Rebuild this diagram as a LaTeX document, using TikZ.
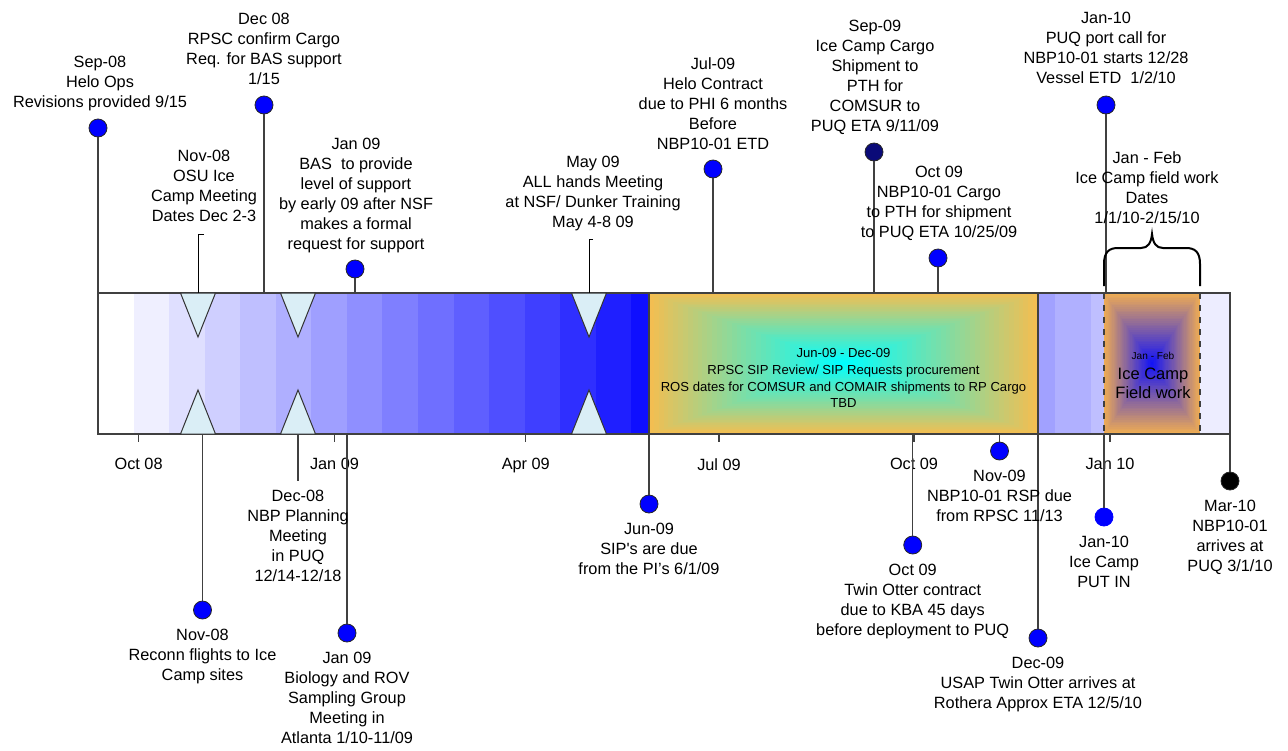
\documentclass[tikz,border=0pt]{standalone}
\usepackage{fontspec}
\setmainfont{Liberation Sans}
\usepackage{xcolor}
\usetikzlibrary{positioning}

\definecolor{laranja}{RGB}{242,190,82}
\definecolor{laranjaB}{RGB}{238,172,84}
\definecolor{ciano}{RGB}{0,255,255}
\definecolor{azulG}{RGB}{20,20,245}
\definecolor{azul}{RGB}{0,0,255}
\definecolor{gelo}{RGB}{218,238,246}
\definecolor{marinho}{RGB}{10,10,120}
\definecolor{borda}{RGB}{64,64,64}

\begin{document}
\begin{tikzpicture}[
    x=0.5pt, y=-0.5pt,
    rotulo/.style={align=center, inner sep=0pt, font=\fontsize{8.15}{10}\selectfont},
    pino/.style={circle, draw=black!85, fill=azul, minimum size=9pt, inner sep=0pt, line width=0.4pt},
    haste/.style={draw=black!75, line width=0.75pt},
    gancho/.style={draw=black, line width=0.5pt},
    ponta/.style={fill=gelo, draw=black!80, line width=0.5pt},
    tique/.style={draw=borda, line width=0.6pt}
]
\useasboundingbox (0,0) rectangle (1288,750);
\fill[white] (0,0) rectangle (1288,750);

\foreach \k in {0,...,15}{
    \pgfmathsetmacro\p{6.27*\k}
    \pgfmathsetmacro\xa{98+35.56*\k}
    \pgfmathsetmacro\xb{min(98+35.56*(\k+1),649)}
    \fill[azul!\p!white] (\xa,293) rectangle (\xb,434);
}
\fill[azul!37!white] (1038,293) rectangle (1055,434);
\fill[azul!31!white] (1055,293) rectangle (1091,434);
\fill[azul!25!white] (1091,293) rectangle (1104,434);
\fill[azul!7!white] (1200,293) rectangle (1230,434);

\foreach \i in {0,...,39}{
    \pgfmathsetmacro\s{1-\i/40}
    \pgfmathsetmacro\pc{100*\i/39}
    \fill[ciano!\pc!laranja] (843.5-194.5*\s,363.5-70.5*\s) rectangle (843.5+194.5*\s,363.5+70.5*\s);
    \fill[azulG!\pc!laranjaB] (1152-48*\s,363.5-70.5*\s) rectangle (1152+48*\s,363.5+70.5*\s);
}
\draw[borda, line width=0.75pt] (649,293) rectangle (1038,434);
\draw[borda, dashed, line width=0.6pt] (1104,293) -- (1104,434) (1200,293) -- (1200,434);

\node[draw=borda, line width=0.75pt, minimum width=566pt, minimum height=70.5pt, inner sep=0pt] (barra) at (664,363.5) {};

\foreach \x [count=\n] in {198,298,589}{
    \filldraw[ponta] (\x-17.5,293) -- (\x+17.5,293) -- (\x,337) -- cycle;
    \filldraw[ponta] (\x-17.5,434) -- (\x+17.5,434) -- (\x,390) -- cycle;
    \coordinate (m\n) at (\x,293);
    \coordinate (b\n) at (\x,434);
}

\node[align=center, inner sep=0pt, font=\fontsize{6.55}{8.3}\selectfont, anchor=north] (sip) at (843.5,348.3)
    {Jun-09 - Dec-09\\RPSC SIP Review/ SIP Requests procurement\\ROS dates for COMSUR and COMAIR shipments to RP Cargo\\TBD};
\node[inner sep=0pt, font=\fontsize{5.05}{6}\selectfont] (campo1) at (1153,355.7) {Jan - Feb};
\node[rotulo, font=\fontsize{8.25}{9.5}\selectfont, anchor=north] (campo2) at (1153,368) {Ice Camp\\Field work};

\foreach \x/\m [count=\c] in {138.6/Oct 08, 334.5/Jan 09, 525.8/Apr 09, 719/Jul 09, 914/Oct 09, 1110/Jan 10}{
    \node[rotulo, anchor=north] (mes\c) at (\x,458) {\m};
    \draw[tique] (mes\c |- barra.south) -- ++(0,7);
}

\node[pino] (p1) at (98,128) {};
\node[pino] (p2) at (264,105) {};
\node[pino] (p3) at (355,269) {};
\node[pino] (p4) at (713,169) {};
\node[pino, fill=marinho] (p5) at (874,152) {};
\node[pino] (p6) at (938,258) {};
\node[pino] (p7) at (1106,105) {};

\node[pino] (q1) at (202.5,610) {};
\node[pino] (q2) at (347,633) {};
\node[pino] (q3) at (649,504) {};
\node[pino] (q4) at (912.7,545) {};
\node[pino] (q5) at (999.5,451) {};
\node[pino] (q6) at (1038,638) {};
\node[pino, draw=azul] (q7) at (1104,517) {};
\node[pino, fill=black] (q8) at (1230,481) {};

\foreach \n in {p1,p2,p3,p4,p5,p6,p7}
    \draw[haste] (\n) -- (\n |- barra.north);
\foreach \n in {q1,q2,q3,q4,q5,q6,q7,q8}
    \draw[haste] (\n |- barra.south) -- (\n);

\coordinate (h1) at (204,234);
\coordinate (h2) at (593,239);
\coordinate (h3) at (298,481);
\draw[gancho] (h1) -| (m1);
\draw[gancho] (h2) -| (m3);
\draw[haste] (b2) -- (h3);

\node[rotulo, anchor=north] (t1) at (100,55.7) {Sep-08\\Helo Ops\\Revisions provided 9/15};
\node[rotulo, anchor=north] (t2) at (264,12.3) {Dec 08\\RPSC confirm Cargo\\Req. for BAS support\\1/15};
\node[rotulo, anchor=north] (t3) at (204,150) {Nov-08\\OSU Ice\\Camp Meeting\\Dates Dec 2-3};
\node[rotulo, anchor=north] (t4) at (356,138) {Jan 09\\BAS~ to provide\\level of support\\by early 09 after NSF\\makes a formal\\request for support};
\node[rotulo, anchor=north] (t5) at (593,156) {May 09\\ALL hands Meeting\\at NSF/ Dunker Training\\May 4-8 09};
\node[rotulo, anchor=north] (t6) at (713,57) {Jul-09\\Helo Contract\\due to PHI 6 months\\Before\\NBP10-01 ETD};
\node[rotulo, anchor=north] (t7) at (875,20) {Sep-09\\Ice Camp Cargo\\Shipment to\\PTH for\\COMSUR to\\PUQ ETA 9/11/09};
\node[rotulo, anchor=north] (t8) at (939,166) {Oct 09\\NBP10-01 Cargo\\to PTH for shipment\\to PUQ ETA 10/25/09};
\node[rotulo, anchor=north] (t9) at (1106,12) {Jan-10\\PUQ port call for\\NBP10-01 starts 12/28\\Vessel ETD~ 1/2/10};
\node[rotulo, anchor=north] (t10) at (1147,151) {Jan - Feb\\Ice Camp field work\\Dates\\1/1/10-2/15/10};

\draw[line width=1pt] (1104,286) -- (1104,264) .. controls (1104,252) and (1109,248) .. (1118,248)
    -- (1141,248) .. controls (1148,248) and (1151,243) .. (1152,234)
    .. controls (1153,243) and (1156,248) .. (1163,248) -- (1186,248)
    .. controls (1195,248) and (1200,252) .. (1200,264) -- (1200,286);

\node[rotulo, below=4.5pt of q1] (u1) {Nov-08\\Reconn flights to Ice\\Camp sites};
\node[rotulo, below=4.5pt of h3] (u2) {Dec-08\\NBP Planning\\Meeting\\in PUQ\\12/14-12/18};
\node[rotulo, below=4.5pt of q2] (u3) {Jan 09\\Biology and ROV\\Sampling Group\\Meeting in\\Atlanta 1/10-11/09};
\node[rotulo, below=4.5pt of q3] (u4) {Jun-09\\SIP\textquotesingle s are due\\from the PI’s 6/1/09};
\node[rotulo, below=4.5pt of q4] (u5) {Oct 09\\Twin Otter contract\\due to KBA 45 days\\before deployment to PUQ};
\node[rotulo, below=4.5pt of q5] (u6) {Nov-09\\NBP10-01 RSP due\\from RPSC 11/13};
\node[rotulo, below=4.5pt of q6] (u7) {Dec-09\\USAP Twin Otter arrives at\\Rothera Approx ETA 12/5/10};
\node[rotulo, below=4.5pt of q7] (u8) {Jan-10\\Ice Camp\\PUT IN};
\node[rotulo, below=4.5pt of q8] (u9) {Mar-10\\NBP10-01\\arrives at\\PUQ 3/1/10};

\end{tikzpicture}
\end{document}
